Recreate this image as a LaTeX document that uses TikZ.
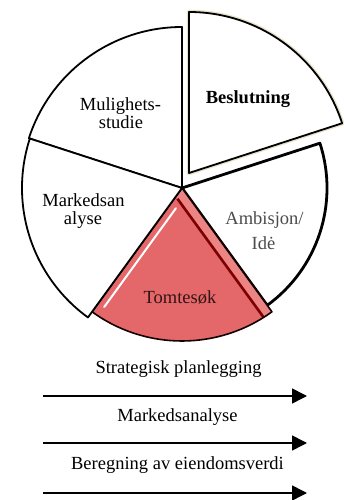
\documentclass[tikz,border=0pt]{standalone}
\usepackage{fontspec}
\setmainfont{Liberation Serif}
\usetikzlibrary{arrows.meta}
\definecolor{tomred}{RGB}{228,104,106}
\definecolor{tomband}{RGB}{236,132,132}
\definecolor{tomdark}{RGB}{125,0,0}
\definecolor{glow}{RGB}{232,226,205}
\definecolor{ambtext}{RGB}{75,75,75}
\definecolor{tomtext}{RGB}{50,20,20}
\begin{document}
\begin{tikzpicture}[x=1pt,y=1pt,
  lbl/.style={font=\fontsize{18.5}{20}\selectfont, inner sep=0pt, anchor=base},
  wedgeline/.style={draw=black, line width=1.8pt, line join=round, fill=white},
  flow/.style={-{Triangle[length=15pt,width=15pt]}, line width=1.6pt}]
\useasboundingbox (0,0) rectangle (344,500);
\coordinate (C) at (182,312);
\coordinate (B) at (189,327);
% Ambisjon / Ide
\begin{scope}[shift={(C)}]
\draw[wedgeline, line width=2.8pt] (0,0) -- (306:145) arc[start angle=306, end angle=378, radius=145] -- cycle;
% Tomtesok
\begin{scope}
\clip (0,0) -- (234:153) arc[start angle=234, end angle=306, radius=153] -- cycle;
\fill[tomred] (0,0) -- (234:153) arc[start angle=234, end angle=306, radius=153] -- cycle;
\fill[tomband] (0,0) -- (306:170) -- ++(216:10) -- ++(126:170) -- cycle;
\draw[tomdark, line width=2.6pt] (216:10) ++(306:6) -- ++(306:170);
\draw[white, line width=2pt, line cap=round] (324:7) ++(234:20) -- ++(234:122);
\end{scope}
\draw[black!85!tomdark, line width=1.6pt, line join=round] (0,0) -- (234:153) arc[start angle=234, end angle=306, radius=153] -- cycle;
% Mulighetsstudie
\draw[wedgeline] (0,0) -- (90:161) arc[start angle=90, end angle=162, radius=161] -- cycle;
% Markedsanalyse
\draw[wedgeline] (0,0) -- (162:160) arc[start angle=162, end angle=234, radius=160] -- cycle;
\end{scope}
% Beslutning (exploded)
\begin{scope}[shift={(B)}]
\draw[glow, line width=4.5pt, line join=round] (0,0) -- (18:161) arc[start angle=18, end angle=90, radius=161] -- cycle;
\draw[wedgeline] (0,0) -- (18:161) arc[start angle=18, end angle=90, radius=161] -- cycle;
\end{scope}
% labels
\node[lbl] (mul1) at (120.5,389.3) {Mulighets-};
\node[lbl] (mul2) at (121,371.2) {studie};
\node[lbl, font=\fontsize{18.5}{20}\selectfont\bfseries] (bes) at (248,396) {Beslutning};
\node[lbl] (mark1) at (83.5,293.3) {Markedsan};
\node[lbl] (mark2) at (83,275.7) {alyse};
\node[lbl, text=ambtext] (amb1) at (264.5,275) {Ambisjon/};
\node[lbl, text=ambtext] (amb2) at (263.5,250) {Idė};
\node[lbl, text=tomtext] (tom) at (180,196.7) {Tomtesøk};
% bottom
\node[lbl] (s1) at (178.5,126) {Strategisk planlegging};
\node[lbl] (s2) at (177.5,78) {Markedsanalyse};
\node[lbl] (s3) at (177.5,30.5) {Beregning av eiendomsverdi};
\coordinate (a1s) at (43,104);
\coordinate (a1e) at (307,104);
\coordinate (a2s) at (43,57);
\coordinate (a2e) at (307,57);
\coordinate (a3s) at (43,7);
\coordinate (a3e) at (307,7);
\draw[flow] (a1s) -- (a1e);
\draw[flow] (a2s) -- (a2e);
\draw[flow] (a3s) -- (a3e);
\end{tikzpicture}
\end{document}
